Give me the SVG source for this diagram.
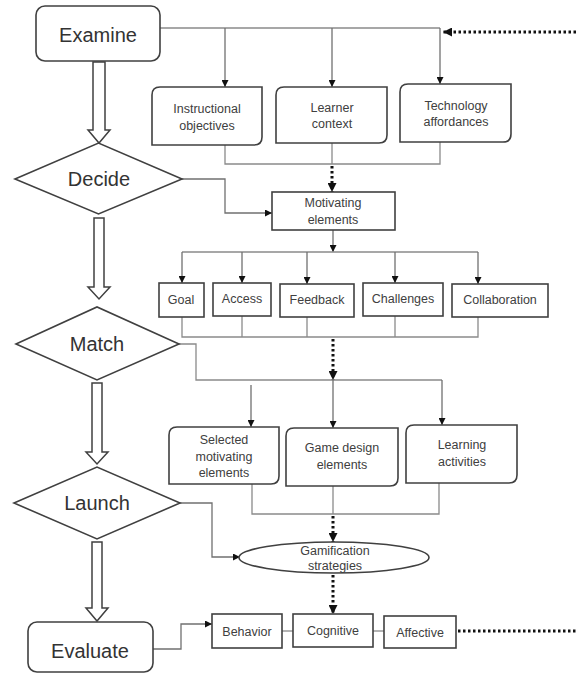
<svg xmlns="http://www.w3.org/2000/svg" width="576" height="675" viewBox="0 0 576 675">
<defs>
<marker id="ah" viewBox="0 0 10 10" refX="10" refY="5" markerWidth="7" markerHeight="7" markerUnits="userSpaceOnUse" orient="auto">
<path d="M0,0 L10,5 L0,10 Z" fill="#111"/>
</marker>
<marker id="ahb" viewBox="0 0 10 10" refX="10" refY="5" markerWidth="9" markerHeight="9" markerUnits="userSpaceOnUse" orient="auto">
<path d="M0,0 L10,5 L0,10 Z" fill="#111"/>
</marker>
</defs>
<style>
.big{font-family:"Liberation Sans",Arial,sans-serif;font-size:20px;fill:#333;text-anchor:middle}
.sm{font-family:"Liberation Sans",Arial,sans-serif;font-size:12.5px;fill:#404040;text-anchor:middle}
.box{fill:#fff;stroke:#404040;stroke-width:1.6}
.ln{fill:none;stroke:#8a8a8a;stroke-width:1.3}
.ar{fill:none;stroke:#707070;stroke-width:1.3;marker-end:url(#ah)}
.dot{fill:none;stroke:#111;stroke-width:3;stroke-dasharray:2.5 2.5;marker-end:url(#ahb)}
.dotn{fill:none;stroke:#111;stroke-width:3;stroke-dasharray:2.5 2.5}
.hol{fill:#fff;stroke:#404040;stroke-width:1.5}
</style>
<rect width="576" height="675" fill="#fff"/>
<g id="connectors">
<!-- Examine top line -->
<path class="ln" d="M160,28 H440"/>
<path class="ar" d="M225,28 V87"/>
<path class="ar" d="M332,28 V87"/>
<path class="ar" d="M440,28 V84"/>
<path class="dot" d="M576,32 H443"/>
<!-- below first row -->
<path class="ln" d="M225,145 V164 H440 V142"/>
<path class="ln" d="M332,143 V164"/>
<path class="dot" d="M332,166 V192"/>
<!-- Decide to motivating -->
<path class="ar" d="M182,179 H225 V213 H272"/>
<!-- motivating elements fan -->
<path class="ar" d="M333,230 V252"/>
<path class="ln" d="M182,252 H478"/>
<path class="ar" d="M182,252 V283"/>
<path class="ar" d="M242,252 V283"/>
<path class="ar" d="M307,252 V284"/>
<path class="ar" d="M395,252 V283"/>
<path class="ar" d="M478,252 V284"/>
<!-- below row 2 -->
<path class="ln" d="M182,317 V337 H478 V317"/>
<path class="ln" d="M242,316 V337"/>
<path class="ln" d="M307,317 V337"/>
<path class="ln" d="M395,316 V337"/>
<path class="dot" d="M333,339 V380"/>
<!-- Match line -->
<path class="ln" d="M179,344 H196 V380 H442"/>
<path class="ar" d="M251,385 V427"/>
<path class="ar" d="M333,380 V428"/>
<path class="ar" d="M442,380 V425"/>
<!-- below row 3 -->
<path class="ln" d="M252,484 V514 H439 V483"/>
<path class="ln" d="M333,486 V514"/>
<path class="dot" d="M333,516 V542"/>
<!-- Launch to ellipse -->
<path class="ar" d="M180,503 H212 V557 H240"/>
<!-- ellipse to cognitive -->
<path class="dot" d="M333,575 V614"/>
<!-- Evaluate to Behavior -->
<path class="ar" d="M153,649 H181 V624 H212"/>
<path class="ln" d="M282,631 H293"/>
<path class="ln" d="M373,631 H384"/>
<path class="dotn" d="M458,631 H576"/>
<!-- hollow arrows -->
<path class="hol" d="M93,62 H105 V130 H110 L99,143 L88,130 H93 Z"/>
<path class="hol" d="M94,218 H104 V287 H110 L99,299 L88,287 H94 Z"/>
<path class="hol" d="M92,383 H102 V452 H108 L97,464 L86,452 H92 Z"/>
<path class="hol" d="M92,542 H102 V608 H108 L97,621 L86,608 H92 Z"/>
</g>
<g id="examine">
<rect class="box" x="36" y="6" width="124" height="55" rx="9"/>
<text class="big" x="98" y="42">Examine</text>
</g>
<g id="decide">
<path class="box" d="M15,179 L98.5,143 L182,179 L98.5,214 Z"/>
<text class="big" x="99" y="186">Decide</text>
</g>
<g id="match">
<path class="box" d="M16,344 L97,307 L179,344 L97,380 Z"/>
<text class="big" x="97" y="351">Match</text>
</g>
<g id="launch">
<path class="box" d="M14,503 L97,467 L180,503 L97,539 Z"/>
<text class="big" x="97" y="510">Launch</text>
</g>
<g id="evaluate">
<rect class="box" x="28" y="622" width="125" height="50" rx="9"/>
<text class="big" x="90" y="658">Evaluate</text>
</g>
<g id="instructional-objectives">
<path class="box" d="M152,95 Q152,87 160,87 H262 V137 Q262,145 254,145 H152 Z"/>
<text class="sm" x="207" y="113">Instructional</text>
<text class="sm" x="207" y="130">objectives</text>
</g>
<g id="learner-context">
<path class="box" d="M276,95 Q276,87 284,87 H387 V135 Q387,143 379,143 H276 Z"/>
<text class="sm" x="332" y="112">Learner</text>
<text class="sm" x="332" y="128">context</text>
</g>
<g id="technology-affordances">
<path class="box" d="M400,92 Q400,84 408,84 H511 V134 Q511,142 503,142 H400 Z"/>
<text class="sm" x="456" y="110">Technology</text>
<text class="sm" x="456" y="126">affordances</text>
</g>
<g id="motivating-elements">
<rect class="box" x="272" y="192" width="123" height="38"/>
<text class="sm" x="333" y="207">Motivating</text>
<text class="sm" x="333" y="224">elements</text>
</g>
<g id="goal">
<rect class="box" x="159" y="283" width="45" height="34"/>
<text class="sm" x="181" y="304">Goal</text>
</g>
<g id="access">
<rect class="box" x="213" y="283" width="58" height="33"/>
<text class="sm" x="242" y="303">Access</text>
</g>
<g id="feedback">
<rect class="box" x="280" y="284" width="74" height="33"/>
<text class="sm" x="317" y="304">Feedback</text>
</g>
<g id="challenges">
<rect class="box" x="363" y="283" width="80" height="33"/>
<text class="sm" x="403" y="303">Challenges</text>
</g>
<g id="collaboration">
<rect class="box" x="452" y="284" width="96" height="33"/>
<text class="sm" x="500" y="304">Collaboration</text>
</g>
<g id="selected-motivating-elements">
<path class="box" d="M169,435 Q169,427 177,427 H279 V476 Q279,484 271,484 H169 Z"/>
<text class="sm" x="224" y="444">Selected</text>
<text class="sm" x="224" y="461">motivating</text>
<text class="sm" x="224" y="477">elements</text>
</g>
<g id="game-design-elements">
<path class="box" d="M286,436 Q286,428 294,428 H398 V478 Q398,486 390,486 H286 Z"/>
<text class="sm" x="342" y="452">Game design</text>
<text class="sm" x="342" y="469">elements</text>
</g>
<g id="learning-activities">
<path class="box" d="M406,433 Q406,425 414,425 H517 V475 Q517,483 509,483 H406 Z"/>
<text class="sm" x="462" y="449">Learning</text>
<text class="sm" x="462" y="466">activities</text>
</g>
<g id="gamification-strategies">
<ellipse class="box" cx="334" cy="557.5" rx="95" ry="15.5"/>
<text class="sm" x="335" y="555">Gamification</text>
<text class="sm" x="335" y="570">strategies</text>
</g>
<g id="behavior">
<rect class="box" x="212" y="614" width="70" height="34"/>
<text class="sm" x="247" y="636">Behavior</text>
</g>
<g id="cognitive">
<rect class="box" x="293" y="614" width="80" height="33"/>
<text class="sm" x="333" y="635">Cognitive</text>
</g>
<g id="affective">
<rect class="box" x="384" y="616" width="72" height="32"/>
<text class="sm" x="420" y="637">Affective</text>
</g>
</svg>
